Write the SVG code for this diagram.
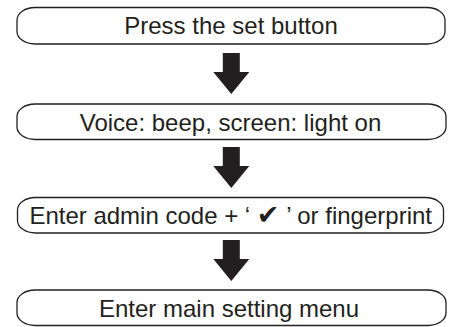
<svg xmlns="http://www.w3.org/2000/svg" width="455" height="327" viewBox="0 0 455 327">
  <style>
    .box { fill: #ffffff; stroke: #231f20; stroke-width: 1.3; }
    .label { font-family: "Liberation Sans", Arial, sans-serif; font-size: 24px; fill: #231f20; text-anchor: middle; }
    .check { font-family: "DejaVu Sans", sans-serif; font-size: 27px; }
    .arrow { fill: #231f20; }
  </style>
  <defs>
    <!-- block down-arrow, origin at top centre of the shaft -->
    <path id="down" d="M -8.5 0 H 8.5 V 19 H 18 L 0 41 L -18 19 H -8.5 Z"/>
  </defs>

  <rect width="455" height="327" fill="#ffffff"/>

  <g id="connectors" class="arrow">
    <use href="#down" x="231.3" y="53"/>
    <use href="#down" x="231.3" y="147"/>
    <use href="#down" x="231.3" y="240"/>
  </g>

  <g id="step-press">
    <rect class="box" x="17" y="7.5" width="428" height="36.5" rx="18" ry="12.5"/>
    <text class="label" x="231" y="34">Press the set button</text>
  </g>

  <g id="step-voice">
    <rect class="box" x="17" y="104" width="429" height="35.5" rx="18" ry="12.5"/>
    <text class="label" x="230.5" y="130.5">Voice: beep, screen: light on</text>
  </g>

  <g id="step-admin">
    <rect class="box" x="17.5" y="197.5" width="426" height="35.5" rx="18" ry="12.5"/>
    <text class="label" x="230.7" y="224">Enter admin code + ‘ <tspan class="check">✔</tspan> ’ or fingerprint</text>
  </g>

  <g id="step-menu">
    <rect class="box" x="17" y="290" width="429" height="35.5" rx="18" ry="12.5"/>
    <text class="label" x="229" y="316.5">Enter main setting menu</text>
  </g>
</svg>
